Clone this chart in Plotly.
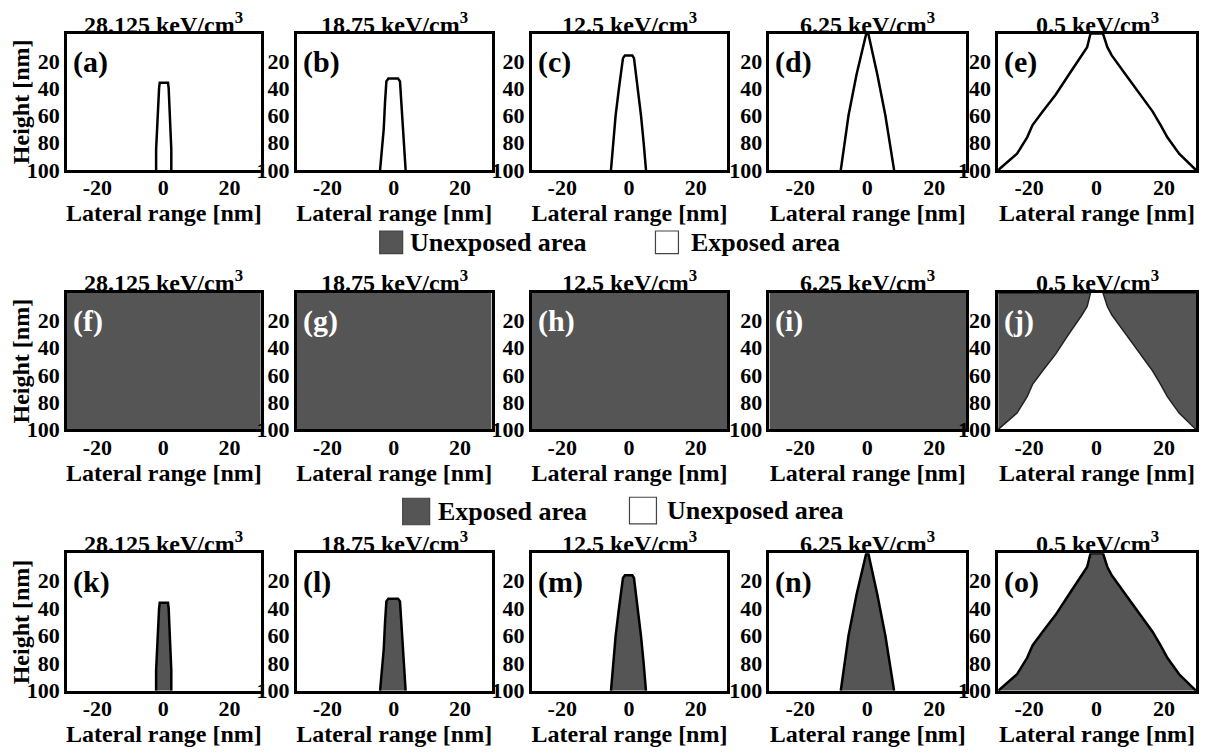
import plotly.graph_objects as go

# the page body has an 8px margin; the figure sits at (8, 8) and fills the window
OFF = 8
W, H = 1191, 740

# ---------------- data ----------------
doses = ["28.125", "18.75", "12.5", "6.25", "0.5"]
row1_labels = ["(a)", "(b)", "(c)", "(d)", "(e)"]
row2_labels = ["(f)", "(g)", "(h)", "(i)", "(j)"]
row3_labels = ["(k)", "(l)", "(m)", "(n)", "(o)"]

# exposed-region profiles: heights [nm] and left / right lateral boundary [nm]
h_28 = [36, 40, 85, 100]
l_28 = [-1.1, -1.3, -2.2, -2.2]
r_28 = [1.4, 1.6, 2.4, 2.4]

h_18 = [33, 35, 50, 70, 90, 100]
l_18 = [-1.6, -2.2, -2.6, -3.0, -3.7, -4.1]
r_18 = [1.3, 1.9, 2.3, 2.7, 3.3, 3.6]

h_12 = [16, 18, 40, 60, 80, 100]
l_12 = [-1.2, -1.8, -3.0, -4.0, -4.8, -5.4]
r_12 = [1.0, 1.5, 2.7, 3.6, 4.4, 5.1]

h_6 = [0, 30, 60, 100]
l_6 = [-0.3, -3.2, -5.6, -7.9]
r_6 = [0.3, 3.0, 5.4, 8.0]

h_05 = [0, 10, 16, 30, 45, 57, 67, 76, 88, 100]
l_05 = [-1.8, -2.8, -4.3, -8.2, -12.2, -16.0, -19.0, -20.6, -23.6, -29.2]
r_05 = [1.9, 3.2, 4.5, 8.6, 13.0, 16.6, 19.0, 21.0, 24.5, 29.5]

profiles = [(h_28, l_28, r_28), (h_18, l_18, r_18), (h_12, l_12, r_12),
            (h_6, l_6, r_6), (h_05, l_05, r_05)]
# row 2: which dose shows any exposed region (only 0.5 keV/cm3)
row2_has_exposed = [False, False, False, False, True]

x_ticks = [-20, 0, 20]
x_tick_text = ["-20", "0", "20"]
y_ticks = [20, 40, 60, 80, 100]
y_tick_text = ["20", "40", "60", "80", "100"]
X_RANGE = [-29.2, 29.5]
Y_RANGE = [100, 0]

# ---------------- style ----------------
DARK = "#555555"
FONT = "Liberation Serif"
col_px = [(67, 261), (297, 492), (532, 728), (770, 967), (999, 1197)]
row_px = [(34, 173), (298, 437), (563, 703)]
title_py = [23, 286, 552]


def fx(p):
    return (p - OFF) / W


def fy(p):
    return 1 - (p - OFF) / H


fig = go.Figure()
annotations = []
shapes = []


def outline(h, l, r):
    xs = list(reversed(l)) + list(r)
    ys = list(reversed(h)) + list(h)
    return xs, ys


for ri in range(3):
    for ci in range(5):
        idx = ri * 5 + ci + 1
        xa = "x" if idx == 1 else f"x{idx}"
        ya = "y" if idx == 1 else f"y{idx}"
        h, l, r = profiles[ci]
        if ri == 0:
            xs, ys = outline(h, l, r)
            fig.add_trace(go.Scatter(x=xs, y=ys, mode="lines",
                                     line=dict(color="black", width=2.5),
                                     xaxis=xa, yaxis=ya, showlegend=False,
                                     hoverinfo="skip"))
        elif ri == 1:
            if row2_has_exposed[ci]:
                ys = [Y_RANGE[1], h[0]] + h[1:] + [Y_RANGE[0]]
                for side, bound in ((X_RANGE[0], l), (X_RANGE[1], r)):
                    xs = [side, bound[0]] + bound[1:] + [side]
                    fig.add_trace(go.Scatter(x=xs, y=ys, mode="lines", fill="toself",
                                             fillcolor=DARK,
                                             line=dict(color="#222222", width=1.5),
                                             xaxis=xa, yaxis=ya, showlegend=False,
                                             hoverinfo="skip"))
            else:
                xs = [X_RANGE[0], X_RANGE[1], X_RANGE[1], X_RANGE[0], X_RANGE[0]]
                ys = [Y_RANGE[1], Y_RANGE[1], Y_RANGE[0], Y_RANGE[0], Y_RANGE[1]]
                fig.add_trace(go.Scatter(x=xs, y=ys, mode="lines", fill="toself",
                                         fillcolor=DARK, line=dict(width=0),
                                         xaxis=xa, yaxis=ya, showlegend=False,
                                         hoverinfo="skip"))
        else:
            xs, ys = outline(h, l, r)
            fig.add_trace(go.Scatter(x=xs, y=ys, mode="lines", fill="toself",
                                     fillcolor=DARK,
                                     line=dict(color="black", width=2.5),
                                     xaxis=xa, yaxis=ya, showlegend=False,
                                     hoverinfo="skip"))

        x0, x1 = col_px[ci]
        y0, y1 = row_px[ri]
        xkey = "xaxis" if idx == 1 else f"xaxis{idx}"
        ykey = "yaxis" if idx == 1 else f"yaxis{idx}"
        fig.layout[xkey] = dict(
            domain=[fx(x0), fx(x1)], anchor=ya, range=X_RANGE,
            tickvals=x_ticks, ticktext=x_tick_text, ticks="",
            showgrid=False, zeroline=False,
            showline=True, linecolor="black", linewidth=2.5, mirror=True,
            tickfont=dict(family=FONT, size=22, color="black", weight="bold"),
            ticklabelstandoff=-4,
            title=dict(text="Lateral range [nm]", standoff=0,
                       font=dict(family=FONT, size=24, color="black", weight="bold")),
        )
        yax = dict(
            domain=[fy(y1), fy(y0)], anchor=xa, range=Y_RANGE,
            tickvals=y_ticks, ticktext=y_tick_text, ticks="",
            showgrid=False, zeroline=False,
            showline=True, linecolor="black", linewidth=2.5, mirror=True,
            tickfont=dict(family=FONT, size=22, color="black", weight="bold"),
            ticklabelstandoff=0,
        )
        if ci == 0:
            yax["title"] = dict(text="Height [nm]", standoff=2,
                                font=dict(family=FONT, size=24, color="black",
                                          weight="bold"))
        fig.layout[ykey] = yax
        # dose title
        annotations.append(dict(
            x=fx((x0 + x1) / 2), y=fy(title_py[ri]), xref="paper", yref="paper",
            text=f"{doses[ci]} keV/cm<sup>3</sup>", showarrow=False,
            font=dict(family=FONT, size=24, color="black", weight="bold"),
            xanchor="center", yanchor="middle"))
        # panel label
        lab = [row1_labels, row2_labels, row3_labels][ri][ci]
        annotations.append(dict(
            x=fx(x0 + 4), y=fy(y0 + 29), xref="paper", yref="paper",
            text=lab, showarrow=False,
            font=dict(family=FONT, size=30, weight="bold",
                      color="white" if ri == 1 else "black"),
            xanchor="left", yanchor="middle"))


def legend_item(sx0, sy0, size, fill, text, tx):
    shapes.append(dict(type="rect", xref="paper", yref="paper",
                       x0=fx(sx0), x1=fx(sx0 + size), y0=fy(sy0 + size), y1=fy(sy0),
                       fillcolor=fill, line=dict(color="#444444", width=1.2)))
    annotations.append(dict(x=fx(tx), y=fy(sy0 + size / 2), xref="paper", yref="paper",
                            text=text, showarrow=False,
                            font=dict(family=FONT, size=26, color="black",
                                      weight="bold"),
                            xanchor="left", yanchor="middle"))


legend_item(380, 235, 23, DARK, "Unexposed area", 408)
legend_item(656, 235, 23, "white", "Exposed area", 690)
legend_item(403, 507, 27, DARK, "Exposed area", 436)
legend_item(630, 506, 27, "white", "Unexposed area", 666)

fig.update_layout(
    width=W, height=H, margin=dict(l=0, r=0, t=0, b=0),
    paper_bgcolor="white", plot_bgcolor="white",
    annotations=annotations, shapes=shapes, showlegend=False,
)

fig.write_html("out.html")
